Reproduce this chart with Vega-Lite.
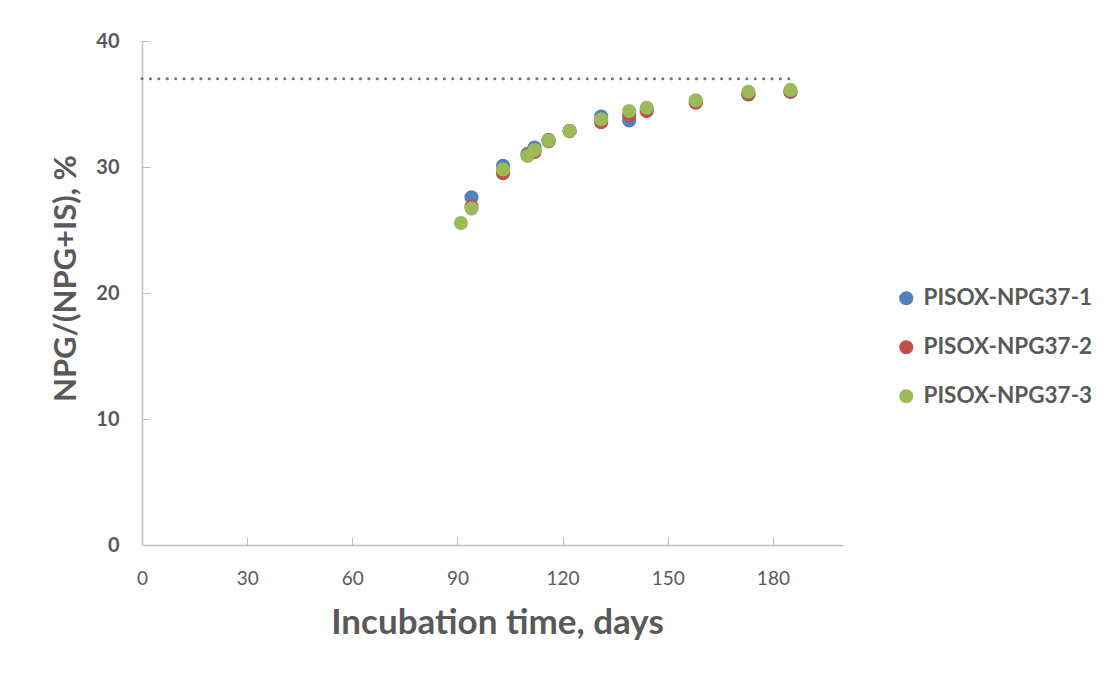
{
  "$schema": "https://vega.github.io/schema/vega-lite/v6.json",
  "width": 701,
  "height": 504,
  "autosize": {"type": "none"},
  "padding": {"left": 142, "top": 41, "right": 263, "bottom": 128},
  "background": "white",
  "config": {"view": {"stroke": null}, "font": "Lato"},
  "layer": [
    {
      "data": {"values": [{"start": 0, "end": 185, "level": 37}]},
      "mark": {"type": "rule", "color": "#8064A2", "strokeWidth": 3, "strokeCap": "round", "strokeDash": [0.1, 8.3]},
      "encoding": {
        "x": {"field": "start", "type": "quantitative"},
        "x2": {"field": "end"},
        "y": {"field": "level", "type": "quantitative"}
      }
    },
    {
      "data": {"values": [
        {"day": 94, "sample": "PISOX-NPG37-1", "value": 27.6},
        {"day": 103, "sample": "PISOX-NPG37-1", "value": 30.1},
        {"day": 110, "sample": "PISOX-NPG37-1", "value": 31.05},
        {"day": 112, "sample": "PISOX-NPG37-1", "value": 31.55},
        {"day": 116, "sample": "PISOX-NPG37-1", "value": 32.15},
        {"day": 122, "sample": "PISOX-NPG37-1", "value": 32.85},
        {"day": 131, "sample": "PISOX-NPG37-1", "value": 34.0},
        {"day": 139, "sample": "PISOX-NPG37-1", "value": 33.7},
        {"day": 144, "sample": "PISOX-NPG37-1", "value": 34.6},
        {"day": 158, "sample": "PISOX-NPG37-1", "value": 35.2},
        {"day": 173, "sample": "PISOX-NPG37-1", "value": 35.75},
        {"day": 185, "sample": "PISOX-NPG37-1", "value": 35.95},
        {"day": 94, "sample": "PISOX-NPG37-2", "value": 26.85},
        {"day": 103, "sample": "PISOX-NPG37-2", "value": 29.5},
        {"day": 110, "sample": "PISOX-NPG37-2", "value": 30.95},
        {"day": 112, "sample": "PISOX-NPG37-2", "value": 31.2},
        {"day": 116, "sample": "PISOX-NPG37-2", "value": 32.05},
        {"day": 122, "sample": "PISOX-NPG37-2", "value": 32.85},
        {"day": 131, "sample": "PISOX-NPG37-2", "value": 33.55},
        {"day": 139, "sample": "PISOX-NPG37-2", "value": 34.1},
        {"day": 144, "sample": "PISOX-NPG37-2", "value": 34.44},
        {"day": 158, "sample": "PISOX-NPG37-2", "value": 35.1},
        {"day": 173, "sample": "PISOX-NPG37-2", "value": 35.77},
        {"day": 185, "sample": "PISOX-NPG37-2", "value": 36.0},
        {"day": 91, "sample": "PISOX-NPG37-3", "value": 25.55},
        {"day": 94, "sample": "PISOX-NPG37-3", "value": 26.7},
        {"day": 103, "sample": "PISOX-NPG37-3", "value": 29.8},
        {"day": 110, "sample": "PISOX-NPG37-3", "value": 30.87},
        {"day": 112, "sample": "PISOX-NPG37-3", "value": 31.35},
        {"day": 116, "sample": "PISOX-NPG37-3", "value": 32.1},
        {"day": 122, "sample": "PISOX-NPG37-3", "value": 32.86},
        {"day": 131, "sample": "PISOX-NPG37-3", "value": 33.78},
        {"day": 139, "sample": "PISOX-NPG37-3", "value": 34.44},
        {"day": 144, "sample": "PISOX-NPG37-3", "value": 34.7},
        {"day": 158, "sample": "PISOX-NPG37-3", "value": 35.3},
        {"day": 173, "sample": "PISOX-NPG37-3", "value": 35.97},
        {"day": 185, "sample": "PISOX-NPG37-3", "value": 36.12}
      ]},
      "mark": {"type": "point", "filled": true, "opacity": 1, "size": 200, "shape": "circle"},
      "encoding": {
        "x": {
          "field": "day", "type": "quantitative",
          "scale": {"domain": [0, 200], "nice": false, "zero": true},
          "axis": {
            "title": "Incubation time, days",
            "values": [0, 30, 60, 90, 120, 150, 180],
            "grid": false,
            "domainColor": "#BFBFBF",
            "domainWidth": 1.5,
            "tickColor": "#BFBFBF",
            "tickSize": -8,
            "labelFlush": false,
            "labelPadding": 32,
            "labelFontSize": 19,
            "labelColor": "#595959",
            "labelFont": "Lato",
            "titleFontSize": 35,
            "titleFontWeight": "bold",
            "titleColor": "#595959",
            "titleX": 355,
            "titleY": 77,
            "titleAlign": "center",
            "titleBaseline": "middle"
          }
        },
        "y": {
          "field": "value", "type": "quantitative",
          "scale": {"domain": [0, 40], "nice": false},
          "axis": {
            "title": "NPG/(NPG+IS), %",
            "values": [0, 10, 20, 30, 40],
            "grid": false,
            "domainColor": "#BFBFBF",
            "domainWidth": 1.5,
            "tickColor": "#BFBFBF",
            "tickSize": -8,
            "labelFlush": false,
            "labelPadding": 31,
            "labelFontSize": 20,
            "labelFontWeight": "bold",
            "labelColor": "#595959",
            "titleFontSize": 31,
            "titleFontWeight": "bold",
            "titleColor": "#595959",
            "titleX": -76,
            "titleY": 237,
            "titleAlign": "center",
            "titleBaseline": "middle",
            "titleAngle": -90
          }
        },
        "color": {
          "field": "sample", "type": "nominal",
          "scale": {"domain": ["PISOX-NPG37-1", "PISOX-NPG37-2", "PISOX-NPG37-3"], "range": ["#4F81BD", "#C0504D", "#9BBB59"]},
          "legend": {
            "title": null,
            "orient": "none",
            "legendX": 753,
            "legendY": 246,
            "symbolType": "circle",
            "symbolSize": 200,
            "symbolStrokeWidth": 0,
            "symbolOpacity": 1,
            "labelFontSize": 22.5,
            "labelFontWeight": "bold",
            "labelColor": "#595959",
            "labelOffset": 6,
            "labelLimit": 400,
            "rowPadding": 26
          }
        }
      }
    }
  ]
}
